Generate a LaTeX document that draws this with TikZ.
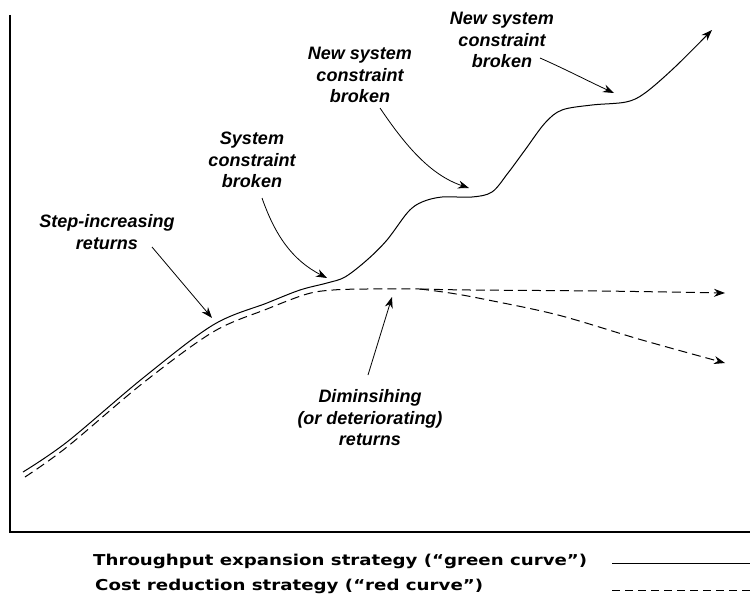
\documentclass[tikz,border=0pt]{standalone}
\usepackage{fontspec}
\usepackage{graphicx}
\setmainfont{Liberation Sans}
\newfontfamily\legendfont{DejaVu Sans}
\usetikzlibrary{arrows.meta}

\begin{document}
\begin{tikzpicture}[x=1pt,y=-1pt,
  lbl/.style={font=\fontsize{18}{21.5}\selectfont\bfseries\itshape, align=center, inner sep=0pt},
  legend/.style={font=\legendfont\fontsize{15}{18}\selectfont\bfseries, inner sep=0pt, anchor=base west},
  axis/.style={line width=1.4pt},
  curve/.style={line width=1pt},
  dcurve/.style={line width=1pt, dash pattern=on 9pt off 5pt},
  tip/.style={-{Stealth[length=11pt,width=8pt]}},
  pointer/.style={line width=0.8pt, -{Stealth[length=11pt,width=8pt]}}]

  \useasboundingbox (0,0) rectangle (750,602);

  % axes
  \draw[axis] (10,15) -- (10,532) -- (750,532);

  % throughput expansion (solid)
  \draw[curve, tip] plot[smooth, tension=0.55] coordinates {
    (23,472) (67,442) (143,378) (213,325) (267,303) (300,290) (327,283)
    (345,277) (367,260) (387,240) (408,212) (422,202) (442,197) (472,197)
    (492,192) (508,173) (525,150) (545,123) (562,110) (592,105) (626,102)
    (645,93) (675,67) (712,30)};

  % cost reduction (dashed): common part, then the two branches
  \draw[dcurve] plot[smooth, tension=0.55] coordinates {
    (25,477) (67,447) (143,383) (213,332) (267,309) (307,294) (333,290)
    (367,289) (420,289)};
  \draw[dcurve, tip] plot[smooth, tension=0.55] coordinates {
    (420,289) (470,290) (600,291) (725,293)};
  \draw[dcurve, tip] plot[smooth, tension=0.55] coordinates {
    (420,289) (450,293) (483,299) (558,315) (642,340) (725,363)};

  % labels
  \node[lbl] (step) at (107,232) {Step-increasing\\returns};
  \node[lbl] (sys) at (252,160) {System\\constraint\\broken};
  \node[lbl] (ns1) at (360,75) {New system\\constraint\\broken};
  \node[lbl] (ns2) at (502,40) {New system\\constraint\\broken};
  \node[lbl] (dim) at (370,418) {Diminsihing\\(or deteriorating)\\returns};

  % pointer ends
  \coordinate (s1) at (152,247); \coordinate (t1) at (212,318);
  \coordinate (s2) at (262,198); \coordinate (t2) at (327,278);
  \coordinate (s3) at (380,108); \coordinate (t3) at (469,188);
  \coordinate (s4) at (540,58);  \coordinate (t4) at (614,93);
  \coordinate (s5) at (368,375); \coordinate (t5) at (392,297);

  \draw[pointer] (s1) -- (t1);
  \draw[pointer] (s2) .. controls (275,235) and (292,260) .. (t2);
  \draw[pointer] (s3) .. controls (405,145) and (430,175) .. (t3);
  \draw[pointer] (s4) .. controls (565,69) and (590,82) .. (t4);
  \draw[pointer] (s5) -- (t5);

  % legend
  \node[legend] (leg1) at (93,565)
    {\resizebox{494pt}{\height}{Throughput expansion strategy (“green curve”)}};
  \node[legend] (leg2) at (95,590)
    {\resizebox{388pt}{\height}{Cost reduction strategy (“red curve”)}};
  \coordinate (k1a) at (612,563); \coordinate (k1b) at (750,563);
  \coordinate (k2a) at (612,590); \coordinate (k2b) at (750,590);
  \draw[line width=1pt] (k1a) -- (k1b);
  \draw[line width=1pt, dash pattern=on 8pt off 5pt] (k2a) -- (k2b);
\end{tikzpicture}
\end{document}
